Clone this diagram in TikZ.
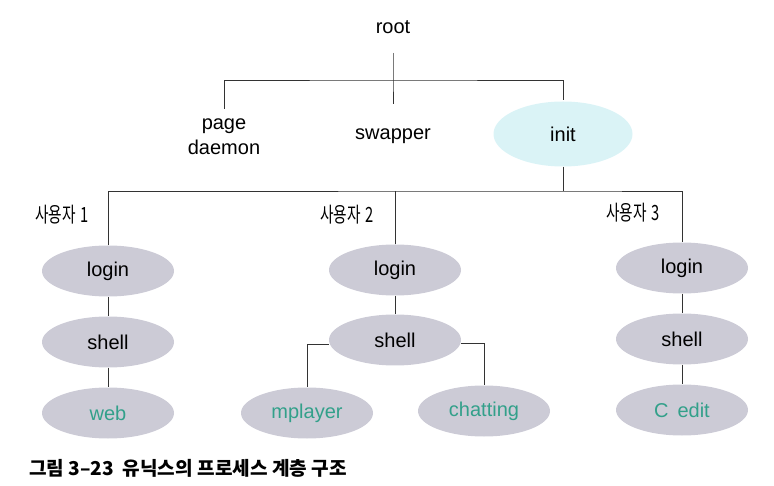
\documentclass[tikz,border=0pt]{standalone}
\usepackage{fontspec}
\setmainfont{Liberation Sans}
\newfontfamily\cjk[FakeStretch=0.7]{Noto Sans CJK KR}
\newfontfamily\cjkcap{Noto Sans CJK KR}
\usetikzlibrary{shapes.geometric}
\definecolor{ellg}{HTML}{CCCBD6}
\definecolor{initc}{HTML}{DAF3F6}
\definecolor{txtg}{HTML}{32A08A}
\definecolor{lnc}{HTML}{333333}
\tikzset{
  proc/.style={ellipse, fill=ellg, minimum width=132pt, minimum height=51pt, inner sep=0pt, font=\fontsize{20}{22}\selectfont},
  leaf/.style={proc, text=txtg},
  lbl/.style={inner sep=0pt, font=\fontsize{20}{25}\selectfont, align=center},
  ulbl/.style={inner sep=0pt, font=\cjk\fontsize{21}{23}\selectfont},
  conn/.style={draw=lnc, line width=0.9pt}
}
\begin{document}
\begin{tikzpicture}[x=1pt,y=-1pt]
\useasboundingbox (0,0) rectangle (774,486);
% top level
\node[lbl] (root) at (393,27) {root};
\node[lbl] (pd) at (224,137) {page\\daemon};
\node[lbl] (swapper) at (393,136) {swapper};
\node[ellipse, fill=initc, minimum width=139pt, minimum height=65pt, inner sep=0pt, font=\fontsize{20}{22}\selectfont] (init) at (563,134) {init};
\coordinate (rt) at (393,53);
\coordinate (j1) at (393,80);
\draw[conn] (rt) -- (j1) -- ([yshift=24pt]swapper.north);
\draw[conn] ([yshift=10pt]pd.north) |- (j1) -| ([yshift=1pt]init.north);
% users
\node[ulbl] (u1) at (62,215) {사용자\hspace{5pt}1};
\node[ulbl] (u2) at (347,215) {사용자\hspace{5pt}2};
\node[ulbl] (u3) at (633,213) {사용자\hspace{5pt}3};
\node[proc] (login1) at (108,271) {login};
\node[proc] (shell1) at (108,342) {shell};
\node[leaf] (web) at (108,413) {web};
\node[proc] (login2) at (395,270) {login};
\node[proc] (shell2) at (395,340) {shell};
\node[leaf] (mplayer) at (307,413) {mplayer};
\node[leaf] (chatting) at (484,411) {chatting};
\node[proc] (login3) at (682,268) {login};
\node[proc] (shell3) at (682,339) {shell};
\node[leaf] (cedit) at (682,410) {C\, edit};
\coordinate (j2) at (563,191);
\draw[conn] (init.south) -- (j2);
\draw[conn] (login1.north) |- (j2) -| (login3.north);
\draw[conn] (login2.north) -- (login2.north |- j2);
\draw[conn] (login1.south) -- (shell1.north);
\draw[conn] (shell1.south) -- (web.north);
\draw[conn] (login2.south) -- (shell2.north);
\draw[conn] ([yshift=-4pt]shell2.west) -| (mplayer.north);
\draw[conn] ([yshift=-3pt]shell2.east) -| (chatting.north);
\draw[conn] (login3.south) -- (shell3.north);
\draw[conn] (shell3.south) -- (cedit.north);
% caption
\node[anchor=west, inner sep=0pt, font=\cjkcap\bfseries\fontsize{19.1}{22}\selectfont] (cap) at (29,468) {그림 3–23\ \ 유닉스의 프로세스 계층 구조};
\end{tikzpicture}
\end{document}
